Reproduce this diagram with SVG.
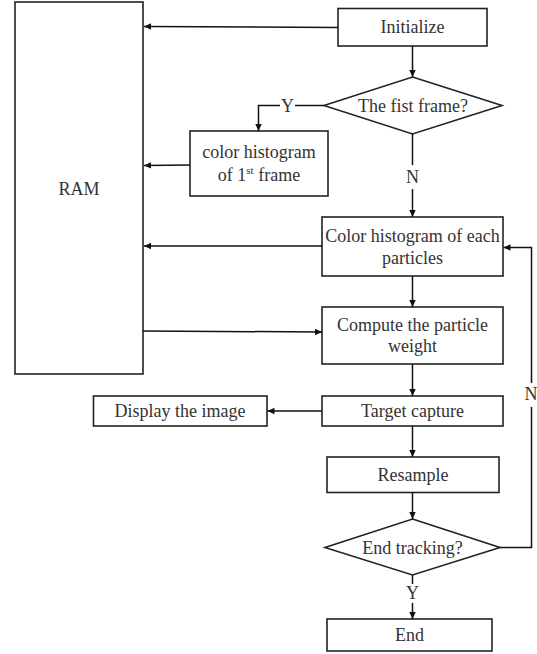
<svg xmlns="http://www.w3.org/2000/svg" width="537" height="654" viewBox="0 0 537 654">
<style>
.box{fill:#fff;stroke:#222;stroke-width:1.6}
.ln{fill:none;stroke:#111;stroke-width:1.5}
.t{font-family:"Liberation Serif","Times New Roman",serif;font-size:18px;fill:#333;text-anchor:middle}
.sup{font-size:11px}
</style>
<defs>
<marker id="ah" markerWidth="8" markerHeight="8" refX="7" refY="4" orient="auto" markerUnits="userSpaceOnUse">
<path d="M0,0.8 L7,4 L0,7.2 z" fill="#111"/>
</marker>
</defs>
<rect width="537" height="654" fill="#fff"/>
<g id="ram"><rect class="box" x="15" y="2" width="128" height="372"/><text class="t" x="79" y="195">RAM</text></g>
<g id="initialize"><rect class="box" x="338" y="8.5" width="149" height="37.5"/><text class="t" x="412.5" y="33">Initialize</text></g>
<g id="first-frame"><polygon class="box" points="412.5,77 502,105.5 412.5,134 324,105.5"/><text class="t" x="413" y="111.5">The fist frame?</text></g>
<g id="hist-first"><rect class="box" x="190" y="131" width="138" height="65"/><text class="t" x="259" y="158">color histogram</text><text class="t" x="259" y="181">of 1<tspan class="sup" dy="-7">st</tspan><tspan dy="7"> frame</tspan></text></g>
<g id="hist-each"><rect class="box" x="322" y="217" width="181" height="59"/><text class="t" x="412.5" y="241.5">Color histogram of each</text><text class="t" x="412.5" y="263.5">particles</text></g>
<g id="compute"><rect class="box" x="322" y="307" width="181" height="57"/><text class="t" x="412.5" y="330.5">Compute the particle</text><text class="t" x="412.5" y="351.5">weight</text></g>
<g id="target"><rect class="box" x="322" y="396" width="181" height="30"/><text class="t" x="412.5" y="417">Target capture</text></g>
<g id="display"><rect class="box" x="93.5" y="396" width="173.5" height="30"/><text class="t" x="180" y="417">Display the image</text></g>
<g id="resample"><rect class="box" x="327" y="457" width="172" height="35.5"/><text class="t" x="413" y="481">Resample</text></g>
<g id="end-tracking"><polygon class="box" points="412.5,519 500,547.5 412.5,575 325,547.5"/><text class="t" x="412.5" y="553.5">End tracking?</text></g>
<g id="end"><rect class="box" x="327" y="619" width="165" height="32"/><text class="t" x="409.5" y="641">End</text></g>
<g id="connectors">
<line class="ln" x1="338" y1="27.5" x2="144" y2="26.5" marker-end="url(#ah)"/>
<line class="ln" x1="412.5" y1="46" x2="412.5" y2="77" marker-end="url(#ah)"/>
<polyline class="ln" points="324,105.5 295,105.5"/>
<polyline class="ln" points="280,105.5 258.5,105.5 258.5,131" marker-end="url(#ah)"/>
<text class="t" x="287.5" y="111.5">Y</text>
<line class="ln" x1="190" y1="165" x2="144" y2="165.5" marker-end="url(#ah)"/>
<line class="ln" x1="412.5" y1="134" x2="412.5" y2="165"/>
<text class="t" x="412.5" y="183">N</text>
<line class="ln" x1="412.5" y1="189" x2="412.5" y2="217" marker-end="url(#ah)"/>
<line class="ln" x1="322" y1="246" x2="144" y2="246" marker-end="url(#ah)"/>
<line class="ln" x1="412.5" y1="276" x2="412.5" y2="307" marker-end="url(#ah)"/>
<line class="ln" x1="143" y1="331" x2="322" y2="332" marker-end="url(#ah)"/>
<line class="ln" x1="412.5" y1="364" x2="412.5" y2="396" marker-end="url(#ah)"/>
<line class="ln" x1="322" y1="411" x2="267.5" y2="411" marker-end="url(#ah)"/>
<line class="ln" x1="412.5" y1="426" x2="412.5" y2="457" marker-end="url(#ah)"/>
<line class="ln" x1="412.5" y1="492.5" x2="412.5" y2="519" marker-end="url(#ah)"/>
<polyline class="ln" points="500,547.5 531.5,547.5 531.5,407"/>
<polyline class="ln" points="531.5,383 531.5,247.5 503.5,247.5" marker-end="url(#ah)"/>
<text class="t" x="531" y="400">N</text>
<line class="ln" x1="412.5" y1="575" x2="412.5" y2="584"/>
<text class="t" x="412.5" y="599">Y</text>
<line class="ln" x1="412.5" y1="603" x2="412.5" y2="619" marker-end="url(#ah)"/>
</g>
</svg>
